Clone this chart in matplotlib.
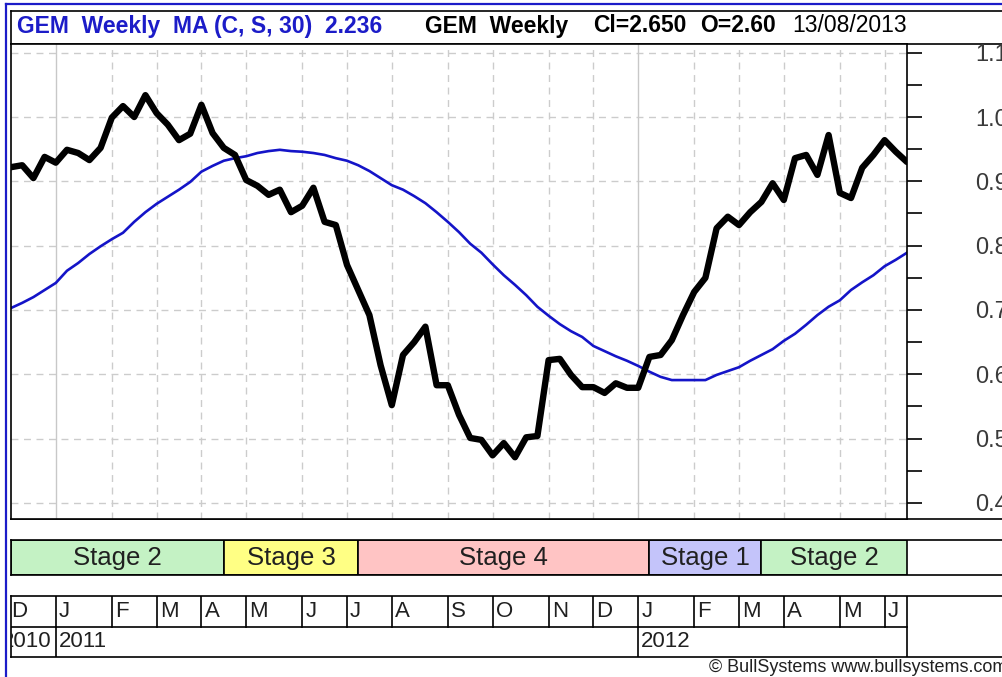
import numpy as np
import matplotlib
matplotlib.use("Agg")
import matplotlib.pyplot as plt
from matplotlib import font_manager
from matplotlib.lines import Line2D

# weekly closes and 30-week MA (week 0 = first bar, mid Dec 2010)
close = [0.922, 0.925, 0.905, 0.938, 0.929, 0.949, 0.944, 0.933, 0.952, 0.999,
         1.017, 1.000, 1.034, 1.006, 0.988, 0.964, 0.974, 1.019, 0.975, 0.952,
         0.941, 0.902, 0.893, 0.879, 0.887, 0.852, 0.862, 0.890, 0.837, 0.832,
         0.770, 0.731, 0.692, 0.614, 0.552, 0.630, 0.650, 0.674, 0.583, 0.583,
         0.537, 0.501, 0.498, 0.474, 0.493, 0.471, 0.502, 0.504, 0.622, 0.624,
         0.599, 0.580, 0.580, 0.571, 0.586, 0.579, 0.579, 0.627, 0.630, 0.653,
         0.692, 0.728, 0.750, 0.827, 0.845, 0.832, 0.852, 0.868, 0.897, 0.871,
         0.936, 0.941, 0.910, 0.972, 0.882, 0.874, 0.921, 0.941, 0.964, 0.946,
         0.930]
ma30 = [0.703, 0.711, 0.720, 0.731, 0.742, 0.761, 0.773, 0.787, 0.799, 0.810,
        0.820, 0.837, 0.852, 0.865, 0.876, 0.887, 0.899, 0.915, 0.924, 0.932,
        0.936, 0.939, 0.944, 0.947, 0.949, 0.947, 0.946, 0.944, 0.941, 0.936,
        0.932, 0.925, 0.916, 0.905, 0.894, 0.887, 0.877, 0.866, 0.852, 0.837,
        0.821, 0.803, 0.789, 0.771, 0.754, 0.739, 0.723, 0.705, 0.691, 0.678,
        0.667, 0.658, 0.644, 0.636, 0.628, 0.621, 0.613, 0.604, 0.596, 0.591,
        0.591, 0.591, 0.591, 0.599, 0.605, 0.611, 0.621, 0.630, 0.639, 0.652,
        0.663, 0.677, 0.692, 0.705, 0.715, 0.731, 0.743, 0.754, 0.768, 0.778,
        0.789]
weeks = np.arange(len(close))

month_labels = ['D', 'J', 'F', 'M', 'A', 'M', 'J', 'J', 'A', 'S', 'O', 'N', 'D',
                'J', 'F', 'M', 'A', 'M', 'J']
month_starts = [-0.25, 4, 9, 13, 17, 21, 26, 30, 34, 39, 43, 48, 52,
                56, 61, 65, 69, 74, 78]
year_labels = ['2010', '2011', '2012']
year_starts = [-1.1, 4, 56]

stage_labels = ['Stage 2', 'Stage 3', 'Stage 4', 'Stage 1', 'Stage 2']
stage_edges = [0, 19, 31, 57, 67, 80]
stage_colors = ['#c4f2c4', '#ffff84', '#ffc4c4', '#c4c4fa', '#c4f2c4']

W, H = 1003, 677
names = {f.name for f in font_manager.fontManager.ttflist}
NARROW = 'Liberation Sans Narrow' if 'Liberation Sans Narrow' in names else 'Liberation Sans'
REG = 'Liberation Sans'


def box(x0, y0, x1, y1):
    # pixel box (top-left origin) -> figure fraction rect
    return [x0 / W, 1 - y1 / H, (x1 - x0) / W, (y1 - y0) / H]


fig = plt.figure(figsize=(W / 100, H / 100), dpi=100)
fig.patch.set_facecolor('white')

# background layer in pixel coords for the frames
bg = fig.add_axes([0, 0, 1, 1], zorder=-5)
bg.set_xlim(0, W)
bg.set_ylim(H, 0)
bg.axis('off')
blue = '#1c1cc8'
bg.add_line(Line2D([6, 6], [4, H], color=blue, lw=1.6))
bg.add_line(Line2D([6, W], [4, 4], color=blue, lw=1.6))
for xs, ys in [([11, W], [11, 11]), ([11, 11], [11, 44]), ([11, W], [44, 44]),
               ([11, W], [519, 519])]:
    bg.add_line(Line2D(xs, ys, color='black', lw=1.2))

# header
hy = 26
hs = 16.5
fig.text(17 / W, 1 - hy / H, 'GEM  Weekly  MA (C, S, 30)  2.236', color=blue,
         fontsize=hs, fontweight='bold', family=NARROW, va='center')
fig.text(425 / W, 1 - hy / H, 'GEM  Weekly', color='black',
         fontsize=hs, fontweight='bold', family=NARROW, va='center')
fig.text(593 / W, 1 - hy / H, 'Cl=2.650', color='black',
         fontsize=hs, fontweight='bold', family=NARROW, va='center')
fig.text(700 / W, 1 - hy / H, 'O=2.60', color='black',
         fontsize=hs, fontweight='bold', family=NARROW, va='center')
fig.text(792 / W, 1 - hy / H, '13/08/2013', color='black',
         fontsize=hs, family=NARROW, va='center')

# main chart
ax = fig.add_axes(box(11, 44, 907, 519))
ax.set_xlim(0, 80)
ax.set_ylim(0.375, 1.1135)
for y in np.arange(0.4, 1.11, 0.1):
    ax.axhline(y, color='#cccccc', lw=1, ls=(0, (5, 4)), zorder=0)
for s in month_starts[1:]:
    if s in (4, 56):
        ax.axvline(s, color='#c8c8c8', lw=1, zorder=0)
    else:
        ax.axvline(s, color='#cccccc', lw=1, ls=(0, (5, 4)), zorder=0)
ax.plot(weeks, ma30, color='#1414c8', lw=1.9, zorder=2)
ax.plot(weeks, close, color='black', lw=4.6, solid_joinstyle='round',
        solid_capstyle='round', zorder=3)
for sp in ax.spines.values():
    sp.set_linewidth(1.2)
ax.set_xticks([])
ax.yaxis.tick_right()
ax.set_yticks(np.arange(0.4, 1.11, 0.1))
ax.set_yticks(np.arange(0.45, 1.11, 0.1), minor=True)
ax.set_yticklabels(['%.1f' % v for v in np.arange(0.4, 1.11, 0.1)],
                   family=REG, fontsize=17, color='#3a3a3a')
ax.tick_params(axis='y', which='both', direction='out', length=11, width=1.2,
               pad=38, colors='black', labelcolor='#3a3a3a')

# stage bar
xr = 80 * (W - 11) / (907 - 11)
ax_s = fig.add_axes(box(11, 540, W, 575))
ax_s.set_xlim(0, xr)
ax_s.set_ylim(0, 1)
ax_s.set_xticks([])
ax_s.set_yticks([])
ax_s.spines['right'].set_visible(False)
for sp in ax_s.spines.values():
    sp.set_linewidth(1.2)
for i, lab in enumerate(stage_labels):
    x0, x1 = stage_edges[i], stage_edges[i + 1]
    ax_s.bar(x0, 1, width=x1 - x0, align='edge', color=stage_colors[i],
             edgecolor='black', linewidth=1.2)
    ax_s.text((x0 + x1) / 2, 0.5, lab, ha='center', va='center',
              fontsize=18.5, family=REG, color='#202020')

# month / year rows
ax_m = fig.add_axes(box(11, 596, W, 657))
ax_m.set_xlim(0, xr)
ax_m.set_ylim(0, 2)
ax_m.set_xticks([])
ax_m.set_yticks([])
ax_m.spines['right'].set_visible(False)
for sp in ax_m.spines.values():
    sp.set_linewidth(1.2)
ax_m.plot([0, 80], [1, 1], color='black', lw=1.2)
ax_m.plot([80, 80], [0, 2], color='black', lw=1.2)
for lab, s in zip(month_labels, month_starts):
    if s > 0:
        ax_m.plot([s, s], [1, 2], color='black', lw=1.2)
    ax_m.text(s + 0.28, 1.5, lab, ha='left', va='center', fontsize=16,
              family=NARROW, color='#202020', clip_on=True)
for lab, s in zip(year_labels, year_starts):
    if s > 0:
        ax_m.plot([s, s], [0, 1], color='black', lw=1.2)
    ax_m.text(s + 0.28, 0.5, lab, ha='left', va='center', fontsize=16,
              family=NARROW, color='#202020', clip_on=True)

fig.text(1007 / W, 1 - 668 / H, '\u00a9 BullSystems www.bullsystems.com',
         ha='right', va='center', fontsize=13, family=NARROW, color='#202020')

fig.savefig('out.png', dpi=100)
